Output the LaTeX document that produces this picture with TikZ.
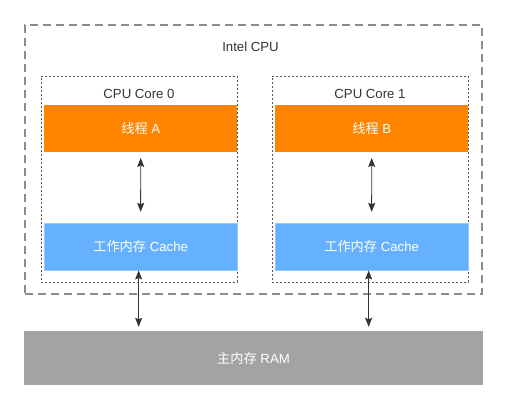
\documentclass[tikz,border=0pt]{standalone}
\usepackage{fontspec}
\setmainfont{Liberation Sans}
\newfontfamily\cjk{Noto Sans CJK SC}
\usepackage{tikz}
\usetikzlibrary{
  arrows.meta,
  chains,
  positioning,
  scopes
}
\definecolor{threadorange}{HTML}{FF8500}
\definecolor{cacheblue}{HTML}{66B1FF}
\definecolor{ramgray}{HTML}{A3A3A3}
\definecolor{cpugray}{HTML}{8C8C8C}
\definecolor{coregray}{HTML}{555555}
\definecolor{textgray}{HTML}{333333}

\begin{document}
\begin{tikzpicture}[x=1pt,y=1pt,
      cpubox/.style={
         rectangle,
         inner sep=0pt,
         draw=cpugray,
         line width=1.2pt,
         dash pattern=on 8pt off 5pt
      },
      corebox/.style={
         rectangle,
         inner sep=0pt,
         minimum width=196pt,
         minimum height=206pt,
         draw=coregray,
         line width=0.9pt,
         dash pattern=on 2pt off 2pt
      },
      thread/.style={
         rectangle,
         inner sep=0pt,
         minimum width=193pt,
         minimum height=47pt,
         fill=threadorange,
         text=white,
         font=\fontsize{13.2}{15}\selectfont
      },
      cache/.style={
         thread,
         fill=cacheblue,
         draw=cacheblue!70!white,
         line width=0.6pt
      },
      mainmem/.style={
         rectangle,
         inner sep=0pt,
         minimum width=459pt,
         minimum height=54pt,
         fill=ramgray,
         text=white,
         font=\fontsize{13.2}{15}\selectfont
      },
      label/.style={text=textgray,inner sep=0pt,font=\fontsize{13.2}{15}\selectfont},
      >={Stealth[length=9pt,width=7pt,inset=1.5pt]},
      tip/.style={<->,draw=black!80,line width=0.9pt,shorten <=6pt,shorten >=11pt},
      bus/.style={<->,draw=black!80,line width=0.9pt,shorten >=4pt}
    ]
    \useasboundingbox (0,0) rectangle (508,410);
    % CPU and cores
    \node (cpu) [cpubox, minimum width=457pt, minimum height=269pt] at (253.5,250.5) {};
    \node (cpul) [label] at (250.5,363) {Intel CPU};
    \node (k0) [corebox] at (139,231) {};
    \node (k1) [corebox] at (370,231) {};
    \node (l0) [label] at ([yshift=-18pt]k0.north) {CPU Core 0};
    \node (l1) [label] at ([yshift=-18pt]k1.north) {CPU Core 1};
    % threads and caches
    \node (t0) [thread, below left=29pt and 0pt of k0.north east] {{\cjk 线程} A};
    \node (t1) [thread, below left=29pt and 0pt of k1.north east] {{\cjk 线程} B};
    \node (c0) [cache, above left=12pt and 0pt of k0.south east] {{\cjk 工作内存} Cache};
    \node (c1) [cache, above left=12pt and 0pt of k1.south east] {{\cjk 工作内存} Cache};
    % main memory
    \node (ram) [mainmem] at (253.5,52) {{\cjk 主内存} RAM};
  { [start chain]
       \chainin (t0);
       \chainin (c0)    [join=by tip];
  }
  { [start chain]
       \chainin (t1);
       \chainin (c1)    [join=by tip];
  }
    \coordinate (m0) at ([xshift=-2pt]c0.south);
    \coordinate (m1) at ([xshift=-3pt]c1.south);
    \draw [bus] (m0) -- (m0 |- ram.north);
    \draw [bus] (m1) -- (m1 |- ram.north);
\end{tikzpicture}
\end{document}
